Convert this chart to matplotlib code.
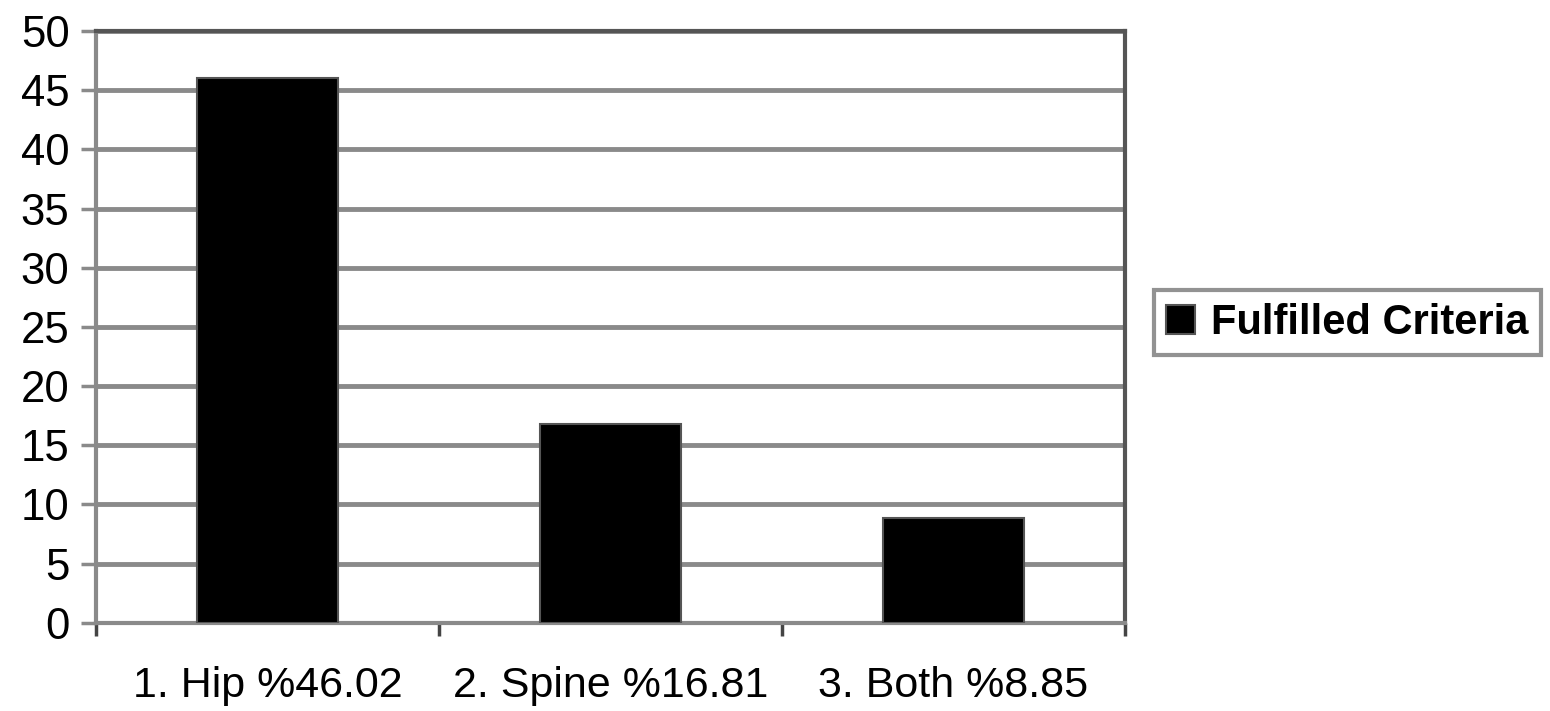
import matplotlib.pyplot as plt
import numpy as np

# data
categories = ['1. Hip %46.02', '2. Spine %16.81', '3. Both %8.85']
fulfilled = [46.02, 16.81, 8.85]
y_ticks = [0, 5, 10, 15, 20, 25, 30, 35, 40, 45, 50]

plt.rcParams['font.family'] = ['Liberation Sans', 'DejaVu Sans']

fig = plt.figure(figsize=(15.5, 7.11), dpi=100)
ax = fig.add_axes([0.0619, 0.1242, 0.6639, 0.8322])

x = np.arange(len(categories)) + 0.5
ax.bar(x, fulfilled, width=0.41, color='black', edgecolor='#555555',
       linewidth=1.5, label='Fulfilled Criteria', zorder=3)

ax.set_xlim(0, len(categories))
ax.set_ylim(0, 50)
ax.set_yticks(y_ticks)
ax.set_yticklabels([str(t) for t in y_ticks], fontsize=31.5)
ax.yaxis.grid(True, color='#8a8a8a', linewidth=3.5, zorder=0)
ax.set_axisbelow(True)

# category boundaries carry the tick marks, labels sit in the middle
ax.set_xticks(np.arange(len(categories) + 1))
ax.set_xticklabels([])
ax.set_xticks(x, minor=True)
ax.set_xticklabels(categories, minor=True, fontsize=31)
ax.tick_params(axis='x', which='major', direction='out', length=9, width=2.5,
               color='#444444')
ax.tick_params(axis='x', which='minor', length=0, pad=31)
ax.tick_params(axis='y', direction='out', length=11, width=2.5, color='#8a8a8a', pad=8)

for side in ['top', 'right']:
    ax.spines[side].set_color('#555555')
    ax.spines[side].set_linewidth(3)
for side in ['left', 'bottom']:
    ax.spines[side].set_color('#8a8a8a')
    ax.spines[side].set_linewidth(3)

leg = ax.legend(loc='center left', bbox_to_anchor=(1.028, 0.507),
                prop={'weight': 'bold', 'size': 30}, frameon=True, fancybox=False,
                handlelength=0.7, handleheight=0.7, handletextpad=0.38,
                borderpad=0.3, borderaxespad=0)
leg.get_frame().set_edgecolor('#777777')
leg.get_frame().set_linewidth(3)

plt.savefig('out.png', dpi=100)
plt.close()
